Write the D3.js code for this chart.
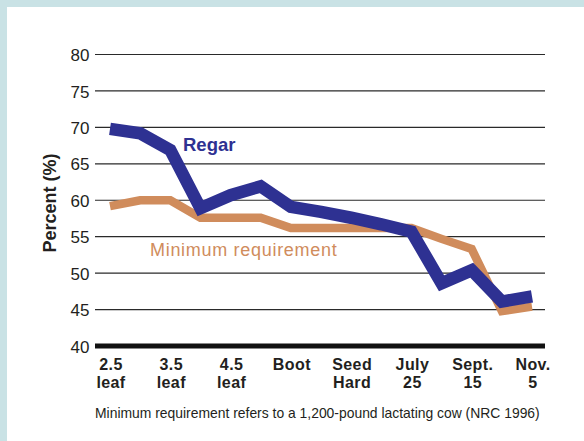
<!DOCTYPE html>
<html><head><meta charset="utf-8">
<script src="https://cdn.jsdelivr.net/npm/d3@7"></script>
<style>
html,body{margin:0;padding:0;background:#fff;}
svg{display:block;}
text{font-family:"Liberation Sans",Arial,Helvetica,sans-serif;}
</style></head>
<body>
<svg id="chart" width="584" height="441"></svg>
<script>
// Data
const categoryLine1 = ["2.5", "3.5", "4.5", "Boot", "Seed", "July", "Sept.", "Nov."];
const categoryLine2 = ["leaf", "leaf", "leaf", "", "Hard", "25", "15", "5"];
const samples = d3.range(15); // two samples per stage (stage at every even sample)
const regar = [69.8, 69.2, 66.9, 58.9, 60.7, 61.9, 59.1, 58.4, 57.6, 56.7, 55.7, 48.6, 50.4, 46.1, 46.8];
const minRequirement = [59.2, 60.0, 60.0, 57.6, 57.6, 57.6, 56.2, 56.2, 56.2, 56.2, 56.2, 54.7, 53.3, 44.8, 45.4];
const yTicks = [40, 45, 50, 55, 60, 65, 70, 75, 80];

const svg = d3.select("#chart");
const W = 584, H = 441;

// background frame
svg.append("rect").attr("x",0).attr("y",0).attr("width",W).attr("height",H).attr("fill","#c9e2e5");
svg.append("rect").attr("x",7).attr("y",7).attr("width",W-7).attr("height",H-7).attr("fill","#ffffff");

const x = d3.scalePoint().domain(samples).range([110, 532]);
const y = d3.scaleLinear().domain([40, 80]).range([346, 54.5]);
const gridX0 = 95, gridX1 = 545;

// gridlines
svg.append("g").selectAll("line").data(yTicks.filter(t => t > 40)).join("line")
  .attr("x1", gridX0).attr("x2", gridX1)
  .attr("y1", d => y(d)).attr("y2", d => y(d))
  .attr("stroke", "#2a2a2a").attr("stroke-width", 1.2);

// y axis labels via d3 axis
const yAxis = d3.axisLeft(y).tickValues(yTicks).tickSize(0).tickPadding(0);
const gy = svg.append("g").attr("transform", `translate(89.5,0)`).call(yAxis);
gy.select(".domain").remove();
gy.selectAll("text").attr("font-size", 17).attr("fill", "#231f20")
  .attr("font-family", '"Liberation Sans",Arial,sans-serif').attr("dy", "0.36em");

// baseline axis (thick)
svg.append("line").attr("x1", gridX0).attr("x2", gridX1)
  .attr("y1", y(40)).attr("y2", y(40)).attr("stroke", "#111").attr("stroke-width", 5);

// y title
svg.append("text").attr("transform", `translate(56,203) rotate(-90)`)
  .attr("text-anchor", "middle").attr("font-size", 18).attr("font-weight", "bold")
  .attr("fill", "#231f20").text("Percent (%)");

// lines
const line = d3.line().x((d, i) => x(i)).y(d => y(d)).curve(d3.curveLinear);
svg.append("path").datum(minRequirement).attr("d", line)
  .attr("fill", "none").attr("stroke", "#d08c5c").attr("stroke-width", 8.5)
  .attr("stroke-linejoin", "miter").attr("stroke-linecap", "butt");
svg.append("path").datum(regar).attr("d", line)
  .attr("fill", "none").attr("stroke", "#2e3192").attr("stroke-width", 12.5)
  .attr("stroke-linejoin", "miter").attr("stroke-linecap", "butt");

// series labels
svg.append("text").attr("x", 183).attr("y", 151).attr("font-size", 18.5).attr("font-weight", "bold")
  .attr("fill", "#2e3192").text("Regar");
svg.append("text").attr("x", 150).attr("y", 256).attr("font-size", 18)
  .attr("letter-spacing", 0.7).attr("fill", "#d08c5c").text("Minimum requirement");

// x category labels (two separate lines)
const stageIdx = categoryLine1.map((_, i) => i * 2);
const gx = svg.append("g").attr("font-size", 16).attr("font-weight", "bold")
  .attr("fill", "#231f20").attr("text-anchor", "middle");
gx.selectAll("text.l1").data(stageIdx).join("text").attr("class", "l1")
  .attr("x", d => x(d) + 1).attr("y", 370).attr("letter-spacing", 0.4)
  .text((d, i) => categoryLine1[i]);
gx.selectAll("text.l2").data(stageIdx.filter((d, i) => categoryLine2[i])).join("text").attr("class", "l2")
  .attr("x", d => x(d) + 1).attr("y", 387.5).attr("letter-spacing", 0.4)
  .text(d => categoryLine2[d / 2]);

// footnote
svg.append("text").attr("x", 95).attr("y", 418).attr("font-size", 13.9)
  .attr("fill", "#231f20").text("Minimum requirement refers to a 1,200-pound lactating cow (NRC 1996)");
</script>
</body></html>
